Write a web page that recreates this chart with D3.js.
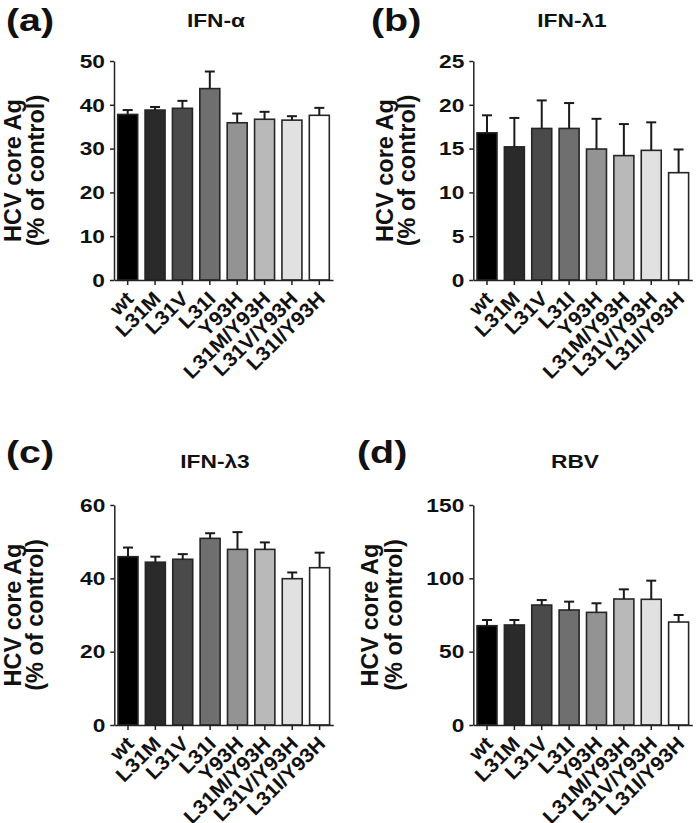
<!DOCTYPE html>
<html>
<head>
<meta charset="utf-8">
<script src="https://cdn.jsdelivr.net/npm/d3@7"></script>
<style>
  html, body { margin: 0; padding: 0; background: #ffffff; }
  svg text { font-family: "Liberation Sans", Arial, sans-serif; font-weight: bold; fill: #111; }
</style>
</head>
<body>
<svg id="chart" width="697" height="823"></svg>
<script>
// ---- data ----
const categories = ["wt", "L31M", "L31V", "L31I", "Y93H", "L31M/Y93H", "L31V/Y93H", "L31I/Y93H"];
const barFills = ["#000000", "#2a2a2a", "#4a4a4a", "#6f6f6f", "#939393", "#b9b9b9", "#e1e1e1", "#ffffff"];

const ifnAlphaMean = [37.8, 38.8, 39.2, 43.7, 35.9, 36.7, 36.5, 37.6];
const ifnAlphaErr  = [1.0, 0.7, 1.7, 3.9, 2.1, 1.7, 0.9, 1.7];
const ifnAlphaTicks = [0, 10, 20, 30, 40, 50];

const ifnL1Mean = [16.8, 15.2, 17.3, 17.3, 14.95, 14.2, 14.8, 12.25];
const ifnL1Err  = [2.0, 3.3, 3.2, 2.9, 3.45, 3.6, 3.2, 2.65];
const ifnL1Ticks = [0, 5, 10, 15, 20, 25];

const ifnL3Mean = [45.9, 44.4, 45.2, 50.9, 47.9, 47.9, 39.9, 42.9];
const ifnL3Err  = [2.5, 1.5, 1.4, 1.4, 4.7, 1.9, 1.7, 4.1];
const ifnL3Ticks = [0, 20, 40, 60];

const rbvMean = [67.7, 68.2, 81.8, 78.4, 76.8, 85.9, 85.7, 70.2];
const rbvErr  = [3.9, 3.4, 3.4, 5.7, 6.2, 6.6, 12.7, 4.8];
const rbvTicks = [0, 50, 100, 150];

const panelLabels = ["(a)", "(b)", "(c)", "(d)"];
const panelTitles = ["IFN-α", "IFN-λ1", "IFN-λ3", "RBV"];
const yLabelLines = ["HCV core Ag", "(% of control)"];

// ---- layout ----
const panels = [
  { label: panelLabels[0], title: panelTitles[0], mean: ifnAlphaMean, err: ifnAlphaErr, ticks: ifnAlphaTicks,
    x0: 114, x1: 333, yTop: 61, yBot: 280, labelX: 6, labelY: 31, titleX: 216, titleY: 27, yl1: 21, yl2: 44 },
  { label: panelLabels[1], title: panelTitles[1], mean: ifnL1Mean, err: ifnL1Err, ticks: ifnL1Ticks,
    x0: 473.3, x1: 692.3, yTop: 61, yBot: 280, labelX: 371, labelY: 31, titleX: 572, titleY: 27, yl1: 393, yl2: 415 },
  { label: panelLabels[2], title: panelTitles[2], mean: ifnL3Mean, err: ifnL3Err, ticks: ifnL3Ticks,
    x0: 114.3, x1: 333.3, yTop: 505, yBot: 725, labelX: 6, labelY: 463, titleX: 215, titleY: 468, yl1: 21, yl2: 43 },
  { label: panelLabels[3], title: panelTitles[3], mean: rbvMean, err: rbvErr, ticks: rbvTicks,
    x0: 473.3, x1: 692.3, yTop: 505, yBot: 725, labelX: 357, labelY: 463, titleX: 575, titleY: 468, yl1: 378, yl2: 402 }
];

const SX = 1.3; // horizontal stretch of the lettering in the source figure
const axisColor = "#222";

const svg = d3.select("#chart");

panels.forEach(p => {
  const g = svg.append("g");
  const x = d3.scaleBand().domain(categories).range([p.x0, p.x1]).paddingInner(0.27).paddingOuter(0.135);
  const y = d3.scaleLinear().domain([0, d3.max(p.ticks)]).range([p.yBot, p.yTop]);

  // panel label and title
  g.append("text").attr("transform", `translate(${p.labelX},${p.labelY}) scale(1.25,1)`)
    .style("font-size", "31.5px").text(p.label);
  g.append("text").attr("transform", `translate(${p.titleX},${p.titleY}) scale(${SX},1)`)
    .attr("text-anchor", "middle").style("font-size", "17.5px").text(p.title);

  // y label (two lines)
  const yc = (p.yTop + p.yBot) / 2;
  [p.yl1, p.yl2].forEach((bx, i) => {
    g.append("text").attr("transform", `translate(${bx},${yc}) rotate(-90)`)
      .attr("text-anchor", "middle").style("font-size", "23.5px").text(yLabelLines[i]);
  });

  // bars
  g.selectAll("rect.bar").data(categories).join("rect")
    .attr("class", "bar")
    .attr("x", d => x(d))
    .attr("width", x.bandwidth())
    .attr("y", (d, i) => y(p.mean[i]))
    .attr("height", (d, i) => y(0) - y(p.mean[i]))
    .attr("fill", (d, i) => barFills[i])
    .attr("stroke", "#262626")
    .attr("stroke-width", 1.6);

  // error bars (upper only)
  const capW = 10;
  categories.forEach((c, i) => {
    const cx = x(c) + x.bandwidth() / 2;
    const top = y(p.mean[i] + p.err[i]);
    g.append("line").attr("x1", cx).attr("x2", cx).attr("y1", y(p.mean[i])).attr("y2", top)
      .attr("stroke", "#1a1a1a").attr("stroke-width", 2);
    g.append("line").attr("x1", cx - capW / 2).attr("x2", cx + capW / 2).attr("y1", top).attr("y2", top)
      .attr("stroke", "#1a1a1a").attr("stroke-width", 2);
  });

  // y axis
  const yAxis = d3.axisLeft(y).tickValues(p.ticks).tickSize(4).tickSizeOuter(0).tickFormat(d3.format("d"));
  const ya = g.append("g").attr("transform", `translate(${p.x0},0)`).call(yAxis);
  ya.select(".domain").attr("stroke", axisColor).attr("stroke-width", 1.5);
  ya.selectAll(".tick line").attr("stroke", axisColor).attr("stroke-width", 1.5);
  ya.selectAll(".tick text")
    .attr("x", null).attr("dy", null)
    .attr("transform", `translate(-9,0) scale(${SX},1)`)
    .attr("dy", "0.36em")
    .style("font-size", "17.5px").style("font-family", "'Liberation Sans', Arial, sans-serif")
    .style("font-weight", "bold").attr("fill", "#111");

  // x axis
  const xAxis = d3.axisBottom(x).tickSize(5).tickSizeOuter(0);
  const xa = g.append("g").attr("transform", `translate(0,${p.yBot})`).call(xAxis);
  xa.select(".domain").attr("stroke", axisColor).attr("stroke-width", 1.5);
  xa.selectAll(".tick line").attr("stroke", axisColor).attr("stroke-width", 1.5);
  xa.selectAll(".tick text")
    .attr("y", null).attr("dy", null)
    .attr("transform", `translate(7,20) rotate(-45) scale(1.06,1)`)
    .style("text-anchor", "end")
    .style("font-size", "20px").style("font-family", "'Liberation Sans', Arial, sans-serif")
    .style("font-weight", "bold").attr("fill", "#111");
});
</script>
</body>
</html>
